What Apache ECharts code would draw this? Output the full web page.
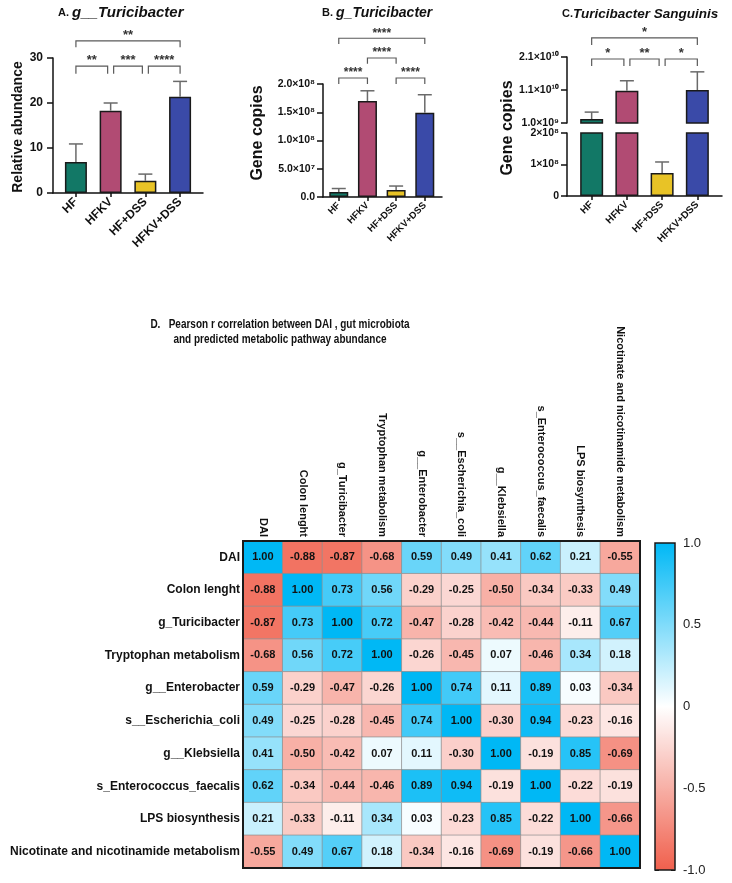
<!DOCTYPE html>
<html>
<head>
<meta charset="utf-8">
<script src="https://cdn.jsdelivr.net/npm/echarts@6/dist/echarts.min.js"></script>
<style>html,body{margin:0;padding:0;background:#fff}#c{width:732px;height:883px}</style>
</head>
<body>
<div id="c"></div>
<script>
// ---------- data ----------
const groups = ['HF', 'HFKV', 'HF+DSS', 'HFKV+DSS'];
const barColors = ['#127866', '#b14b73', '#e8c326', '#3a4aa8'];

const aMean = [6.9, 18.3, 2.7, 21.4];
const aErr = [4.0, 1.7, 1.5, 3.4];
const aTickLabels = ['0', '10', '20', '30'];
const aBrackets = [[0, 3, 33.8, 32.4], [0, 1, 28.2, 26.5], [1, 2, 28.2, 26.5], [2, 3, 28.2, 26.5]];
const aStars = ['**', '**', '***', '****'];

const bMean = [9.0e6, 1.70e8, 1.24e7, 1.49e8];
const bErr = [6.0e6, 1.8e7, 7.0e6, 3.2e7];
const bTickLabels = ['0.0', '5.0×10⁷', '1.0×10⁸', '1.5×10⁸', '2.0×10⁸'];
const bBrackets = [[0, 3, 2.81e8, 2.71e8], [1, 2, 2.46e8, 2.36e8], [0, 1, 2.106e8, 2.0e8], [2, 3, 2.106e8, 2.0e8]];
const bStars = ['****', '****', '****', '****'];

const cMean = [2.2e9, 1.08e10, 7.3e7, 1.1e10];
const cErr = [2.1e9, 3.0e9, 3.5e7, 5.5e9];
const cUpperTickLabels = ['1.0×10⁹', '1.1×10¹⁰', '2.1×10¹⁰'];
const cLowerTickLabels = ['0', '1×10⁸', '2×10⁸'];
const cBrackets = [[0, 3, 2.68e10, 2.46e10], [0, 1, 2.04e10, 1.83e10], [1, 2, 2.04e10, 1.83e10], [2, 3, 2.04e10, 1.83e10]];
const cStars = ['*', '*', '**', '*'];

const heatCols = ['DAI', 'Colon lenght', 'g_Turicibacter', 'Tryptophan metabolism', 'g__Enterobacter',
  's__Escherichia_coli', 'g__Klebsiella', 's_Enterococcus_faecalis', 'LPS biosynthesis',
  'Nicotinate and nicotinamide metabolism'];
const heatRows = ['DAI', 'Colon lenght', 'g_Turicibacter', 'Tryptophan metabolism', 'g__Enterobacter',
  's__Escherichia_coli', 'g__Klebsiella', 's_Enterococcus_faecalis', 'LPS biosynthesis',
  'Nicotinate and nicotinamide metabolism'];
const corrValues = [
  [1.00, -0.88, -0.87, -0.68, 0.59, 0.49, 0.41, 0.62, 0.21, -0.55],
  [-0.88, 1.00, 0.73, 0.56, -0.29, -0.25, -0.50, -0.34, -0.33, 0.49],
  [-0.87, 0.73, 1.00, 0.72, -0.47, -0.28, -0.42, -0.44, -0.11, 0.67],
  [-0.68, 0.56, 0.72, 1.00, -0.26, -0.45, 0.07, -0.46, 0.34, 0.18],
  [0.59, -0.29, -0.47, -0.26, 1.00, 0.74, 0.11, 0.89, 0.03, -0.34],
  [0.49, -0.25, -0.28, -0.45, 0.74, 1.00, -0.30, 0.94, -0.23, -0.16],
  [0.41, -0.50, -0.42, 0.07, 0.11, -0.30, 1.00, -0.19, 0.85, -0.69],
  [0.62, -0.34, -0.44, -0.46, 0.89, 0.94, -0.19, 1.00, -0.22, -0.19],
  [0.21, -0.33, -0.11, 0.34, 0.03, -0.23, 0.85, -0.22, 1.00, -0.66],
  [-0.55, 0.49, 0.67, 0.18, -0.34, -0.16, -0.69, -0.19, -0.66, 1.00]
];
const colorbarTicks = [-1, -0.5, 0, 0.5, 1];
const colorbarLabels = ['-1.0', '-0.5', '0', '0.5', '1.0'];

// ---------- helpers ----------
const FONT = "'Liberation Sans', Arial, Helvetica, sans-serif";
const INK = '#111';
const idxTicks = groups.map((g, i) => i);

function errRender(capHalf) {
  return function (params, api) {
    const x = api.value(0), m = api.value(1), e = api.value(2);
    const p0 = api.coord([x, m]), p1 = api.coord([x, m + e]);
    const st = { stroke: '#6a6a6a', lineWidth: 1.5 };
    return { type: 'group', children: [
      { type: 'line', shape: { x1: p0[0], y1: p0[1], x2: p1[0], y2: p1[1] }, style: st },
      { type: 'line', shape: { x1: p1[0] - capHalf, y1: p1[1], x2: p1[0] + capHalf, y2: p1[1] }, style: st }
    ] };
  };
}
function bracketRender(list, stars, fs) {
  return function (params, api) {
    const from = api.value(0), to = api.value(1), yl = api.value(2), yb = api.value(3);
    const shared = (end) => list.some((b, j) => j !== params.dataIndex && b[2] === yl && (b[0] === end || b[1] === end));
    const p1 = api.coord([from, yl]), p2 = api.coord([to, yl]), pb = api.coord([from, yb]);
    const x1 = p1[0] + (shared(from) ? 3 : 0);
    const x2 = p2[0] - (shared(to) ? 3 : 0);
    return { type: 'group', children: [
      { type: 'polyline', shape: { points: [[x1, pb[1]], [x1, p1[1]], [x2, p1[1]], [x2, pb[1]]] },
        style: { stroke: '#5a5a5a', lineWidth: 1.2, fill: null } },
      { type: 'text', x: (x1 + x2) / 2, y: p1[1] + 1,
        style: { text: stars[params.dataIndex], align: 'center', verticalAlign: 'bottom',
          fontSize: fs, fontWeight: 'bold', fontFamily: FONT, fill: '#333' } }
    ] };
  };
}
function yAxisCfg(grid, min, max, interval, labels, fs, margin) {
  return {
    type: 'value', gridIndex: grid, min: min, max: max, interval: interval,
    axisLine: { show: true, onZero: false, lineStyle: { color: INK, width: 1.5 } },
    axisTick: { show: true, length: 6, lineStyle: { color: INK, width: 1.5 } },
    axisLabel: { fontWeight: 'bold', fontSize: fs, fontFamily: FONT, color: INK, margin: margin,
      formatter: v => labels[Math.round((v - min) / interval)] },
    splitLine: { show: false }
  };
}
function xAxisCfg(grid, min, max, fs, show) {
  return {
    type: 'value', gridIndex: grid, min: min, max: max, show: show,
    axisLine: { show: true, onZero: false, lineStyle: { color: INK, width: 1.5 } },
    axisTick: { show: true, customValues: idxTicks, length: 4, lineStyle: { color: INK, width: 1.5 } },
    axisLabel: { customValues: idxTicks, formatter: v => groups[v], rotate: 45, fontWeight: 'bold',
      fontSize: fs, fontFamily: FONT, color: INK, margin: 7 },
    splitLine: { show: false }
  };
}
function barSeries(xi, yi, means, width) {
  return {
    type: 'bar', xAxisIndex: xi, yAxisIndex: yi, barWidth: width, clip: true,
    data: means.map((v, i) => ({ value: [i, v], itemStyle: { color: barColors[i] } })),
    itemStyle: { borderColor: '#1a1a1a', borderWidth: 1.5 },
    emphasis: { disabled: true }, z: 2
  };
}
function errSeries(xi, yi, means, errs, cap, keep) {
  const d = [];
  means.forEach((m, i) => { if (!keep || keep(m)) d.push([i, m, errs[i]]); });
  return { type: 'custom', xAxisIndex: xi, yAxisIndex: yi, data: d, renderItem: errRender(cap), z: 3, silent: true };
}
function brSeries(xi, yi, list, stars, fs) {
  return { type: 'custom', xAxisIndex: xi, yAxisIndex: yi, data: list, renderItem: bracketRender(list, stars, fs),
    z: 3, silent: true, clip: false };
}

const heatData = [];
corrValues.forEach((row, r) => row.forEach((v, c) => heatData.push([c, r, v])));

const series = [
  barSeries(0, 0, aMean, 22), errSeries(0, 0, aMean, aErr, 7), brSeries(0, 0, aBrackets, aStars, 13),
  barSeries(1, 1, bMean, 19), errSeries(1, 1, bMean, bErr, 7), brSeries(1, 1, bBrackets, bStars, 12),
  barSeries(2, 2, cMean, 23), errSeries(2, 2, cMean, cErr, 7, m => m >= 1e9), brSeries(2, 2, cBrackets, cStars, 13),
  barSeries(3, 3, cMean, 23), errSeries(3, 3, cMean, cErr, 7, m => m < 1e9)
];
const heatIndex = series.length;
series.push({
  type: 'heatmap', xAxisIndex: 4, yAxisIndex: 4, data: heatData,
  label: { show: true, formatter: p => p.value[2].toFixed(2), fontWeight: 'bold', fontSize: 11,
    fontFamily: FONT, color: '#111' },
  itemStyle: { borderColor: '#8c8c8c', borderWidth: 0.7 },
  emphasis: { disabled: true }
});

const boldText = (x, y, text, fs, extra) => Object.assign({
  type: 'text', x: x, y: y,
  style: { text: text, fontSize: fs, fontWeight: 'bold', fontFamily: FONT, fill: INK, align: 'center', verticalAlign: 'middle' }
}, extra || {});

const option = {
  backgroundColor: '#fff',
  animation: false,
  grid: [
    { left: 53, top: 58, width: 150, height: 135 },
    { left: 323, top: 84, width: 119, height: 113 },
    { left: 567, top: 57, width: 155, height: 66 },
    { left: 567, top: 133, width: 155, height: 63 },
    { left: 243, top: 541, width: 397, height: 327, show: true, borderColor: '#1a1a1a', borderWidth: 2,
      backgroundColor: 'transparent', z: 10 },
    { left: 655, top: 543, width: 20, height: 327, show: true, borderColor: '#1a1a1a', borderWidth: 1.5,
      backgroundColor: 'transparent', z: 10 }
  ],
  xAxis: [
    xAxisCfg(0, -0.66, 3.66, 12, true),
    xAxisCfg(1, -0.55, 3.6, 9.5, true),
    xAxisCfg(2, -0.7, 3.7, 10, false),
    xAxisCfg(3, -0.7, 3.7, 10, true),
    { type: 'category', gridIndex: 4, data: heatCols, position: 'top',
      axisLine: { show: false }, axisTick: { show: false },
      axisLabel: { rotate: 90, fontWeight: 'bold', fontSize: 11, fontFamily: FONT, color: INK, margin: 4, interval: 0 } },
    { type: 'value', gridIndex: 5, show: false, min: 0, max: 1 }
  ],
  yAxis: [
    yAxisCfg(0, 0, 30, 10, aTickLabels, 12, 10),
    yAxisCfg(1, 0, 2e8, 5e7, bTickLabels, 10.5, 8),
    yAxisCfg(2, 1e9, 2.1e10, 1e10, cUpperTickLabels, 10.5, 8),
    yAxisCfg(3, 0, 2e8, 1e8, cLowerTickLabels, 10.5, 8),
    { type: 'category', gridIndex: 4, data: heatRows, inverse: true,
      axisLine: { show: false }, axisTick: { show: false },
      axisLabel: { fontWeight: 'bold', fontSize: 12, fontFamily: FONT, color: INK, margin: 3, interval: 0 } },
    { type: 'value', gridIndex: 5, position: 'left', min: -1, max: 1, interval: 0.5,
      axisLine: { show: false, onZero: false }, axisTick: { show: true, inside: true, length: 4, lineStyle: { color: INK } },
      axisLabel: { show: false }, splitLine: { show: false } },
    { type: 'value', gridIndex: 5, position: 'right', min: -1, max: 1, interval: 0.5,
      axisLine: { show: false, onZero: false }, axisTick: { show: true, inside: true, length: 4, lineStyle: { color: INK } },
      axisLabel: { show: true, fontSize: 13, fontFamily: FONT, color: '#222', margin: 8,
        formatter: v => colorbarLabels[colorbarTicks.indexOf(v)] },
      splitLine: { show: false } }
  ],
  visualMap: {
    type: 'continuous', min: -1, max: 1, seriesIndex: heatIndex, dimension: 2,
    inRange: { color: ['#f0604d', '#ffffff', '#00b8f5'] },
    show: true, calculable: false, left: 655, top: 543, itemWidth: 20, itemHeight: 327, padding: 0,
    text: null, showLabel: false
  },
  graphic: [
    { type: 'text', x: 58, y: 13, style: { text: '{p|A. }{t|g__Turicibacter}', verticalAlign: 'middle', fill: INK,
      rich: { p: { fontSize: 11, fontWeight: 'bold', fontFamily: FONT, fill: INK },
              t: { fontSize: 15, fontWeight: 'bold', fontStyle: 'italic', fontFamily: FONT, fill: INK } } } },
    { type: 'text', x: 322, y: 13, style: { text: '{p|B. }{t|g_Turicibacter}', verticalAlign: 'middle', fill: INK,
      rich: { p: { fontSize: 11, fontWeight: 'bold', fontFamily: FONT, fill: INK },
              t: { fontSize: 14, fontWeight: 'bold', fontStyle: 'italic', fontFamily: FONT, fill: INK } } } },
    { type: 'text', x: 562, y: 14, style: { text: '{p|C.}{t|Turicibacter Sanguinis}', verticalAlign: 'middle', fill: INK,
      rich: { p: { fontSize: 11, fontWeight: 'bold', fontFamily: FONT, fill: INK },
              t: { fontSize: 13.5, fontWeight: 'bold', fontStyle: 'italic', fontFamily: FONT, fill: INK } } } },
    boldText(18, 127, 'Relative abundance', 14, { rotation: Math.PI / 2 }),
    boldText(258, 133, 'Gene copies', 16, { rotation: Math.PI / 2 }),
    boldText(508, 128, 'Gene copies', 16, { rotation: Math.PI / 2 }),
    boldText(280, 324, 'D.   Pearson r correlation between DAI , gut microbiota', 13.5, { scaleX: 0.74 }),
    boldText(280, 339, 'and predicted metabolic pathway abundance', 13.5, { scaleX: 0.74 })
  ],
  series: series
};

const chart = echarts.init(document.getElementById('c'));
chart.setOption(option);
</script>
</body>
</html>
